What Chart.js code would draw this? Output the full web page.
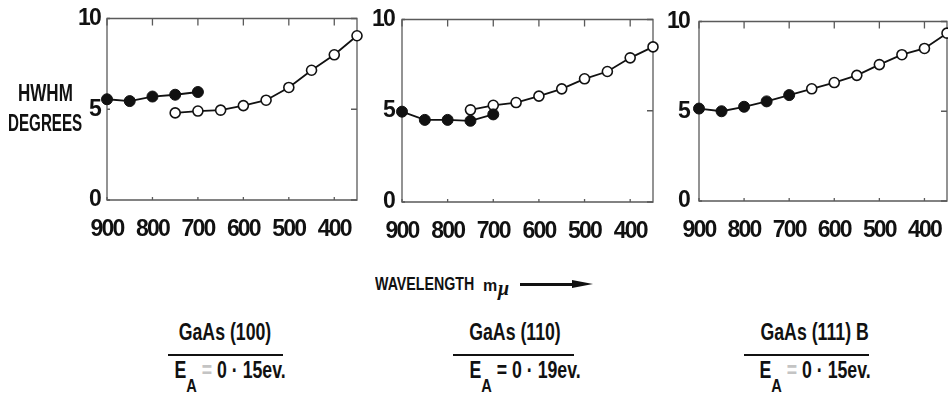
<!DOCTYPE html>
<html><head><meta charset="utf-8">
<script src="https://cdn.jsdelivr.net/npm/chart.js@4/dist/chart.umd.min.js"></script>
<style>
html,body{margin:0;padding:0;background:#fff;width:948px;height:394px;overflow:hidden;}
body{position:relative;font-family:'Liberation Sans',Arial,sans-serif;font-weight:bold;color:#111;}
canvas{position:absolute;top:0;}
.t{position:absolute;white-space:nowrap;line-height:1;}
.l{transform-origin:left top;}
.c{text-align:center;transform-origin:center top;transform:scaleX(0.77);}
.sub{position:relative;top:14px;font-size:19px;}
.rule{position:absolute;height:0;border-top:2.5px solid #111;}
.faint{color:#c4c4c4;}
</style></head><body>
<canvas id="c1"></canvas>
<canvas id="c2"></canvas>
<canvas id="c3"></canvas>

<div class="t l" style="left:18px;top:82px;font-size:23px;transform:scaleX(0.74);">HWHM</div>
<div class="t l" style="left:8px;top:112px;font-size:23px;transform:scaleX(0.66);">DEGREES</div>

<div class="t l" style="left:375px;top:275px;font-size:18px;transform:scaleX(0.79);">WAVELENGTH</div>
<div class="t" style="left:483px;top:278px;font-size:16px;">m</div>
<div class="t" style="left:498px;top:278px;font-size:20px;font-family:'Liberation Serif',serif;font-style:italic;">μ</div>
<div style="position:absolute;left:520px;top:283px;width:56px;height:0;border-top:3px solid #111;"></div>
<div style="position:absolute;left:572px;top:280px;width:0;height:0;border-top:4.5px solid transparent;border-bottom:4.5px solid transparent;border-left:21px solid #111;"></div>

<div class="t c" style="left:162px;width:126px;top:321px;font-size:23px;">GaAs (100)</div>
<div class="rule" style="left:168px;width:115px;top:354px;"></div>
<div class="t c" style="left:160px;width:126px;top:359px;font-size:23px;">E<span class="sub">A</span> <span class="faint">=</span> 0 · 15ev.</div>

<div class="t c" style="left:452px;width:126px;top:321px;font-size:23px;">GaAs (110)</div>
<div class="rule" style="left:453px;width:121px;top:354px;"></div>
<div class="t c" style="left:455px;width:126px;top:359px;font-size:23px;">E<span class="sub">A</span> = 0 · 19ev.</div>

<div class="t c" style="left:746px;width:126px;top:321px;font-size:23px;">GaAs (111) B</div>
<div class="rule" style="left:744px;width:125px;top:354px;"></div>
<div class="t c" style="left:745px;width:126px;top:359px;font-size:23px;">E<span class="sub">A</span> <span class="faint">=</span> 0 · 15ev.</div>

<script>
// Axis ticks
const xTickValues = [900, 800, 700, 600, 500, 400];
const yTickValues = [0, 5, 10];

// GaAs (100)
const filledX_100 = [900, 850, 800, 750, 700];
const filledY_100 = [5.55, 5.45, 5.7, 5.8, 5.95];
const openX_100 = [750, 700, 650, 600, 550, 500, 450, 400, 350];
const openY_100 = [4.8, 4.9, 4.95, 5.2, 5.5, 6.2, 7.15, 8.0, 9.05];

// GaAs (110)
const filledX_110 = [900, 850, 800, 750, 700];
const filledY_110 = [4.95, 4.5, 4.5, 4.45, 4.8];
const openX_110 = [750, 700, 650, 600, 550, 500, 450, 400, 350];
const openY_110 = [5.05, 5.3, 5.45, 5.8, 6.2, 6.75, 7.15, 7.9, 8.5];

// GaAs (111) B
const filledX_111 = [900, 850, 800, 750, 700];
const filledY_111 = [5.15, 5.0, 5.25, 5.55, 5.9];
const openX_111 = [650, 600, 550, 500, 450, 400, 350];
const openY_111 = [6.25, 6.6, 7.0, 7.6, 8.15, 8.5, 9.35];

const FONT = "'Liberation Sans',Arial,sans-serif";

const tightText = {
  id: 'tightText',
  beforeUpdate(chart) { chart.ctx.letterSpacing = '-1.8px'; },
  beforeDraw(chart) { chart.ctx.letterSpacing = '-1.8px'; }
};

const framePlugin = {
  id: 'frame',
  beforeDatasetsDraw(chart) {
    const { ctx, chartArea: a, scales: { x, y } } = chart;
    ctx.save();
    ctx.strokeStyle = '#5a5a5a';
    ctx.lineWidth = 1.3;
    ctx.beginPath();
    ctx.rect(a.left, a.top, a.right - a.left, a.bottom - a.top);
    ctx.stroke();
    ctx.beginPath();
    x.ticks.forEach(t => {
      const px = x.getPixelForValue(t.value);
      ctx.moveTo(px, a.top); ctx.lineTo(px, a.top + 7);
      ctx.moveTo(px, a.bottom); ctx.lineTo(px, a.bottom - 3);
    });
    y.ticks.forEach(t => {
      const py = y.getPixelForValue(t.value);
      ctx.moveTo(a.right, py); ctx.lineTo(a.right - 6, py);
      ctx.moveTo(a.left, py); ctx.lineTo(a.left + 3, py);
    });
    ctx.stroke();
    ctx.restore();
  }
};

function makePanel(id, geo, fx, fy, ox, oy, joinFilled) {
  const canvas = document.getElementById(id);
  const W = geo.R - geo.L + 50 + 15, H = geo.B + 45;
  canvas.width = W; canvas.height = H;
  canvas.style.left = (geo.L - 50) + 'px';
  canvas.style.width = W + 'px'; canvas.style.height = H + 'px';
  const filled = fx.map((x, i) => ({ x, y: fy[i] }));
  let open = ox.map((x, i) => ({ x, y: oy[i] }));
  let openRadius = open.map(() => 5);
  if (joinFilled) { open = [filled[filled.length - 1], ...open]; openRadius = [0, ...openRadius]; }
  const tickFont = { family: FONT, size: 23, weight: 'bold', lineHeight: 1 };
  new Chart(canvas, {
    type: 'line',
    data: { datasets: [
      { data: filled, borderColor: '#111', backgroundColor: '#111', borderWidth: 1.8, pointRadius: 5.5,
        pointBackgroundColor: '#111', pointBorderColor: '#111', pointBorderWidth: 1, clip: false, tension: 0 },
      { data: open, borderColor: '#111', backgroundColor: '#fff', borderWidth: 1.8, pointRadius: openRadius,
        pointBackgroundColor: '#fff', pointBorderColor: '#111', pointBorderWidth: 1.6, clip: false, tension: 0 }
    ] },
    options: {
      responsive: false, animation: false, devicePixelRatio: 1, events: [],
      layout: { padding: { top: geo.T, right: 15, left: 0, bottom: 0 } },
      plugins: { legend: { display: false }, tooltip: { enabled: false } },
      scales: {
        x: {
          type: 'linear', reverse: true, min: 350, max: 900,
          grid: { display: false, drawTicks: false }, border: { display: false },
          ticks: { font: tickFont, color: '#111', padding: 18, maxRotation: 0, autoSkip: false },
          afterBuildTicks: s => { s.ticks = xTickValues.map(v => ({ value: v })); },
          afterFit: s => { s.height = 45; }
        },
        y: {
          type: 'linear', min: 0, max: 10,
          grid: { display: false, drawTicks: false }, border: { display: false },
          ticks: { font: tickFont, color: '#111', padding: geo.yPad },
          afterBuildTicks: s => { s.ticks = yTickValues.map(v => ({ value: v })); },
          afterFit: s => { s.width = 50; }
        }
      }
    },
    plugins: [tightText, framePlugin]
  });
}

makePanel('c1', { L: 107, R: 357, T: 17, B: 200, yPad: 7 }, filledX_100, filledY_100, openX_100, openY_100, false);
makePanel('c2', { L: 402, R: 653, T: 14, B: 202, yPad: 8 }, filledX_110, filledY_110, openX_110, openY_110, false);
makePanel('c3', { L: 699, R: 947, T: 14, B: 201, yPad: 10 }, filledX_111, filledY_111, openX_111, openY_111, true);
</script>
</body></html>
